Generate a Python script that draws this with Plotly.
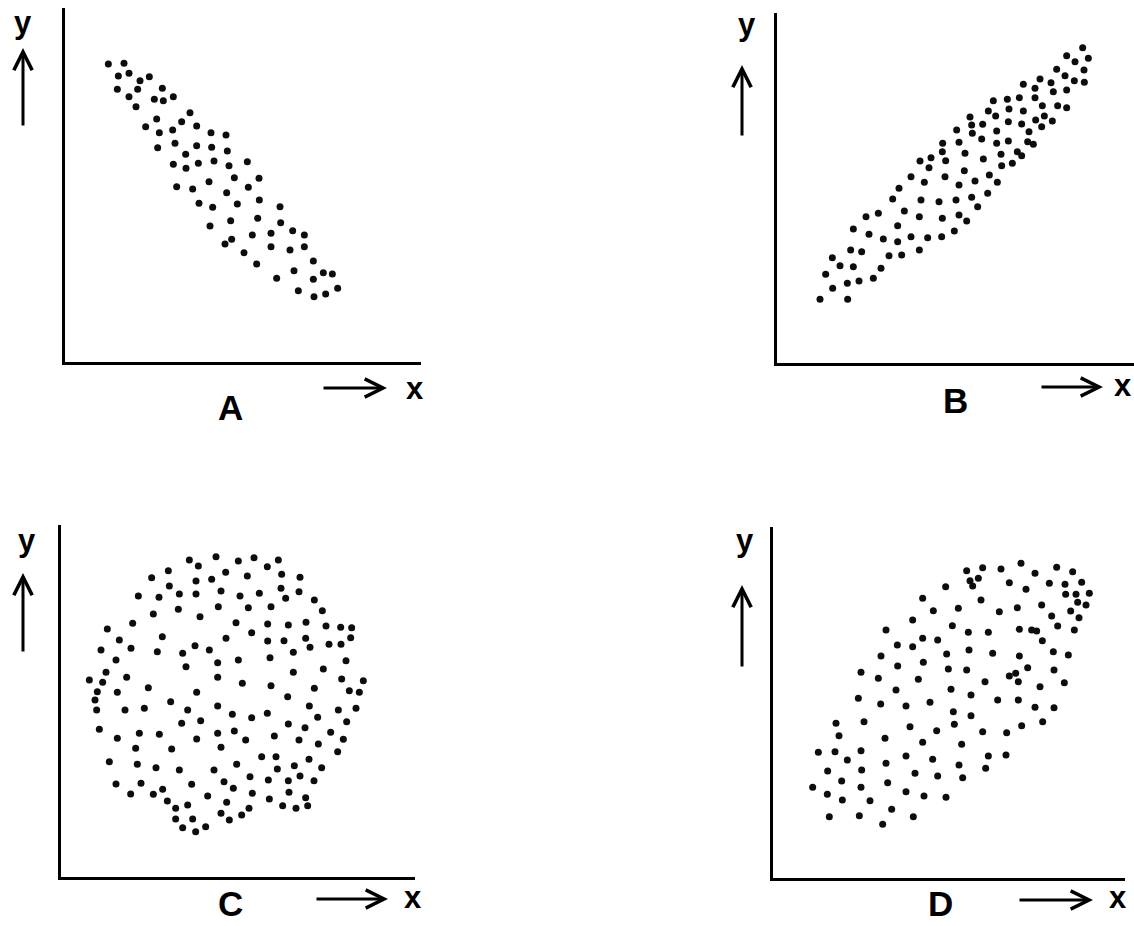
import plotly.graph_objects as go

W, H = 1134, 926

# ---- Scatter data (arbitrary units, y measured upward) ----
# A: strong negative correlation
a_x = [40, 87, 70, 102, 135, 163, 67, 128, 102, 202, 178, 205, 235, 123, 285, 185, 260, 152, 305, 193,
       233, 348, 393, 188, 240, 305, 350, 397, 272, 235, 273, 310, 357, 402, 457, 418, 492, 342, 245, 293,
       395, 460, 312, 353, 427, 493, 555, 488, 407, 345, 557, 593, 628, 472, 528, 410, 390, 528, 447, 585,
       628, 485, 655, 545, 597, 655, 685, 712, 610, 657, 692, 728]
a_y = [958, 960, 922, 930, 908, 920, 882, 882, 860, 885, 852, 848, 860, 830, 812, 793, 785, 770, 772, 752,
       760, 752, 745, 707, 720, 713, 708, 697, 687, 657, 645, 660, 667, 653, 665, 617, 615, 605, 590, 583,
       572, 588, 540, 528, 538, 550, 530, 495, 488, 472, 482, 458, 445, 445, 450, 432, 418, 410, 392, 400,
       410, 358, 367, 315, 338, 312, 332, 328, 278, 260, 268, 285]

# B: strong positive correlation
b_x = [833, 785, 810, 850, 755, 780, 837, 705, 655, 690, 738, 808, 838, 745, 785, 565, 607, 643, 690, 550,
       612, 655, 712, 758, 785, 495, 572, 500, 533, 610, 650, 692, 718, 742, 710, 455, 502, 575, 672, 530,
       413, 462, 575, 610, 668, 685, 412, 480, 535, 588, 637, 650, 345, 378, 422, 372, 590, 622, 478, 318,
       420, 358, 553, 462, 510, 577, 282, 263, 348, 402, 453, 500, 548, 518, 183, 220, 298, 343, 412, 462,
       485, 145, 192, 278, 235, 278, 318, 368, 410, 448, 137, 170, 252, 290, 343, 82, 105, 145, 228, 62,
       83, 127, 162, 205, 45, 128]
b_y = [962, 938, 920, 930, 897, 878, 895, 868, 852, 840, 857, 863, 858, 830, 835, 803, 807, 812, 812, 772,
       778, 772, 788, 788, 782, 754, 757, 730, 732, 740, 733, 745, 757, 742, 725, 715, 705, 712, 710, 688,
       675, 678, 675, 682, 680, 672, 650, 645, 628, 642, 650, 638, 622, 632, 623, 602, 608, 615, 593, 575,
       575, 558, 580, 550, 562, 558, 540, 508, 505, 500, 505, 513, 525, 485, 455, 465, 472, 455, 450, 460,
       442, 418, 402, 428, 388, 380, 395, 392, 395, 412, 355, 350, 338, 340, 355, 332, 308, 305, 300, 282,
       240, 255, 262, 270, 207, 207]

# C: no correlation
c_x = [328, 408, 475, 522, 595, 355, 562, 265, 215, 348, 395, 437, 502, 605, 660, 268, 175, 237, 298, 348,
       423, 480, 538, 603, 657, 617, 703, 220, 295, 360, 415, 505, 573, 727, 82, 158, 468, 515, 563, 625,
       678, 738, 782, 815, 118, 247, 438, 563, 612, 677, 63, 153, 232, 308, 345, 388, 690, 747, 783, 812,
       108, 318, 413, 475, 570, 640, 798, 78, 140, 413, 640, 730, 28, 68, 205, 350, 487, 573, 785, 850,
       52, 112, 272, 623, 703, 808, 838, 45, 50, 135, 193, 323, 413, 457, 515, 562, 688, 775, 828, 305,
       362, 625, 713, 800, 58, 178, 238, 413, 463, 497, 583, 675, 752, 112, 350, 657, 790, 167, 275, 423,
       715, 773, 88, 172, 228, 298, 402, 470, 545, 588, 643, 687, 725, 592, 108, 183, 248, 335, 432, 510,
       565, 625, 660, 702, 152, 220, 262, 383, 460, 517, 627, 568, 677, 287, 323, 440, 507, 608, 648, 683,
       287, 338, 423, 485, 448, 308, 347, 377]
c_y = [955, 965, 952, 962, 955, 937, 935, 923, 902, 892, 897, 918, 907, 912, 903, 877, 847, 843, 853, 853,
       862, 847, 855, 870, 860, 840, 835, 793, 807, 785, 815, 812, 815, 803, 748, 765, 767, 737, 763, 760,
       768, 757, 753, 752, 715, 725, 720, 712, 713, 720, 685, 690, 680, 675, 698, 685, 693, 702, 702, 722,
       655, 635, 647, 655, 662, 678, 653, 618, 603, 603, 618, 628, 595, 588, 572, 558, 585, 578, 598, 593,
       560, 558, 530, 545, 570, 563, 558, 535, 505, 505, 510, 505, 517, 492, 482, 495, 517, 505, 510, 465,
       473, 463, 483, 470, 447, 435, 432, 435, 442, 415, 427, 452, 438, 420, 418, 415, 417, 390, 388, 393,
       403, 380, 350, 342, 332, 325, 325, 342, 365, 365, 338, 357, 332, 328, 283, 285, 267, 282, 290, 305,
       295, 293, 307, 293, 253, 252, 232, 247, 270, 255, 258, 238, 242, 210, 220, 228, 210, 218, 210, 218,
       178, 178, 195, 190, 175, 152, 140, 155]

# D: moderate positive correlation
d_x = [500, 548, 603, 663, 770, 818, 510, 535, 518, 705, 628, 748, 795, 845, 437, 678, 797, 828, 868, 368,
       543, 833, 858, 400, 475, 598, 652, 725, 812, 338, 755, 837, 258, 457, 505, 565, 658, 695, 710, 773,
       823, 368, 413, 292, 338, 727, 243, 440, 507, 578, 658, 760, 805, 293, 370, 445, 500, 183, 628, 647,
       683, 762, 235, 355, 555, 655, 720, 793, 288, 453, 513, 175, 242, 318, 390, 593, 655, 705, 762, 460,
       513, 108, 192, 330, 463, 410, 548, 620, 665, 728, 117, 255, 368, 485, 55, 105, 183, 142, 318, 398,
       565, 618, 258, 477, 83, 185, 557, 345, 413, 488, 125, 183, 263, 38, 82, 127, 210, 318, 372, 438,
       275, 88, 178, 340, 248]
d_y = [938, 947, 943, 960, 948, 935, 908, 915, 892, 930, 902, 900, 897, 903, 890, 882, 867, 867, 870, 855,
       850, 843, 835, 818, 825, 815, 827, 835, 817, 790, 802, 797, 760, 773, 753, 753, 762, 760, 757, 772,
       760, 735, 730, 715, 710, 728, 682, 688, 700, 690, 682, 695, 685, 652, 663, 643, 640, 633, 622, 630,
       647, 640, 615, 612, 605, 605, 590, 602, 580, 582, 565, 555, 538, 532, 543, 550, 550, 528, 527, 515,
       503, 480, 485, 470, 477, 458, 455, 452, 473, 485, 443, 435, 423, 417, 393, 395, 398, 370, 382, 372,
       382, 385, 360, 355, 337, 340, 345, 330, 322, 317, 307, 288, 302, 288, 267, 250, 248, 275, 262, 258,
       222, 200, 203, 200, 177]

panel_labels = ["A", "B", "C", "D"]
axis_labels = ("x", "y")

# ---- Layout of the four panels (pixel positions) ----
panels = [
    dict(x=a_x, y=a_y, box=(65, 8, 421, 362), xr=(-90, 978), yr=(64, 1126),
         ylab=(23, 22), up=(23, 48, 127), name=(230, 408, "middle"), right=(388, 322, 387), xlab=(415, 388)),
    dict(x=b_x, y=b_y, box=(777, 13, 1134, 363), xr=(-84, 987), yr=(16, 1066),
         ylab=(747, 25), up=(742, 65, 137), name=(955, 400, "middle"), right=(387, 1040, 1103), xlab=(1123, 385)),
    dict(x=c_x, y=c_y, box=(61, 525, 415, 877), xr=(-57, 1005), yr=(4, 1060),
         ylab=(27, 540), up=(23, 573, 653), name=(230, 925, "bottom"), right=(899, 315, 388), xlab=(413, 897)),
    dict(x=d_x, y=d_y, box=(773, 527, 1125, 878), xr=(-81, 975), yr=(16, 1069),
         ylab=(745, 540), up=(742, 585, 668), name=(940, 925, "bottom"), right=(900, 1018, 1093), xlab=(1118, 897)),
]


def px(x):
    return x / W


def py(y):
    return 1 - y / H


FAMILY = "Liberation Sans, Arial, sans-serif"
AXIS_FONT = dict(family=FAMILY, size=31, color="black", weight=700)
NAME_FONT = dict(family=FAMILY, size=35, color="black", weight=700)

fig = go.Figure()
annotations = []

for i, (p, lab) in enumerate(zip(panels, panel_labels), start=1):
    sfx = "" if i == 1 else str(i)
    fig.add_trace(go.Scatter(
        x=p["x"], y=p["y"], mode="markers",
        marker=dict(size=7, color="#0d0d0d", line=dict(width=0)),
        xaxis="x" + sfx, yaxis="y" + sfx, showlegend=False, hoverinfo="skip",
    ))
    left, top, right, bottom = p["box"]
    common = dict(showline=True, linewidth=3, linecolor="black", showgrid=False,
                  zeroline=False, showticklabels=False, ticks="", fixedrange=True)
    fig.layout["xaxis" + sfx] = dict(domain=[px(left), min(px(right), 1.0)], range=list(p["xr"]),
                                      anchor="y" + sfx, **common)
    fig.layout["yaxis" + sfx] = dict(domain=[py(bottom), py(top)], range=list(p["yr"]),
                                      anchor="x" + sfx, **common)

    # axis captions and panel letter
    annotations.append(dict(x=px(p["ylab"][0]), y=py(p["ylab"][1]), text=axis_labels[1], font=AXIS_FONT))
    annotations.append(dict(x=px(p["xlab"][0]), y=py(p["xlab"][1]), text=axis_labels[0], font=AXIS_FONT))
    nx, ny, nanchor = p["name"]
    annotations.append(dict(x=px(nx), y=py(ny), text=lab, font=NAME_FONT, yanchor=nanchor))

    # direction arrows
    ux, utip, utail = p["up"]
    annotations.append(dict(x=px(ux), y=py(utip), ax=0, ay=utail - utip, text="",
                            showarrow=True, arrowhead=5, arrowsize=1.2, arrowwidth=3,
                            arrowcolor="black", standoff=0, startstandoff=0))
    ry, rtail, rtip = p["right"]
    annotations.append(dict(x=px(rtip), y=py(ry), ax=rtail - rtip, ay=0, text="",
                            showarrow=True, arrowhead=5, arrowsize=1.2, arrowwidth=3,
                            arrowcolor="black", standoff=0, startstandoff=0))

for a in annotations:
    a.setdefault("xref", "paper")
    a.setdefault("yref", "paper")
    a.setdefault("showarrow", False)
    a.setdefault("xanchor", "center")
    a.setdefault("yanchor", "middle")

fig.update_layout(
    width=W, height=H,
    margin=dict(l=0, r=0, t=0, b=0),
    paper_bgcolor="white", plot_bgcolor="white",
    annotations=annotations,
    showlegend=False,
)

fig.write_html("out.html", config=dict(displayModeBar=False))
